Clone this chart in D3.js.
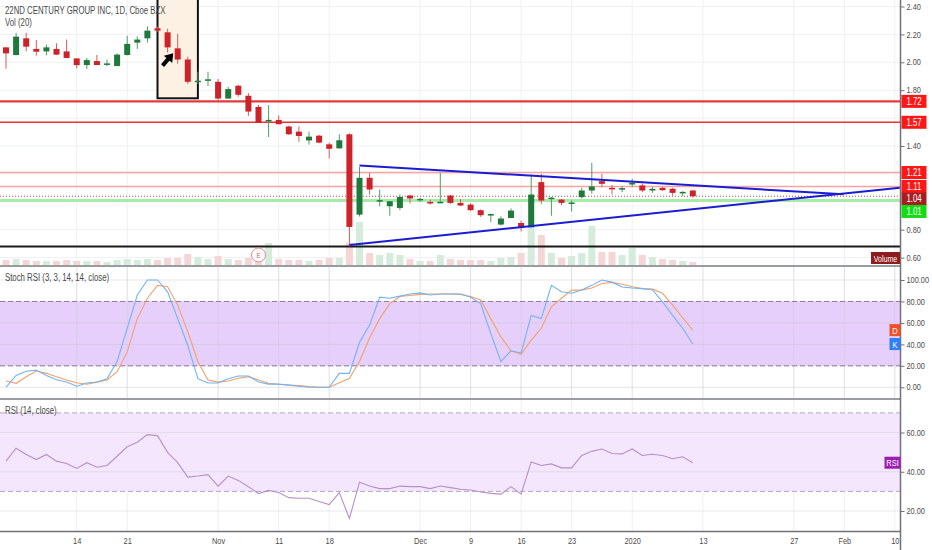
<!DOCTYPE html>
<html><head><meta charset="utf-8">
<script src="https://cdn.jsdelivr.net/npm/d3@7"></script>
<style>
html,body{margin:0;padding:0;background:#fff;}
svg{display:block;font-family:"Liberation Sans",Arial,sans-serif;}
</style></head><body><svg id="c" width="932" height="550"></svg>
<script>
// ---------- DATA ----------
const tradingDays = [
"2019-10-03","2019-10-04","2019-10-07","2019-10-08","2019-10-09","2019-10-10","2019-10-11","2019-10-14","2019-10-15","2019-10-16","2019-10-17","2019-10-18","2019-10-21","2019-10-22","2019-10-23","2019-10-24","2019-10-25","2019-10-28","2019-10-29","2019-10-30","2019-10-31",
"2019-11-01","2019-11-04","2019-11-05","2019-11-06","2019-11-07","2019-11-08","2019-11-11","2019-11-12","2019-11-13","2019-11-14","2019-11-15","2019-11-18","2019-11-19","2019-11-20","2019-11-21","2019-11-22","2019-11-25","2019-11-26","2019-11-27","2019-11-29",
"2019-12-02","2019-12-03","2019-12-04","2019-12-05","2019-12-06","2019-12-09","2019-12-10","2019-12-11","2019-12-12","2019-12-13","2019-12-16","2019-12-17","2019-12-18","2019-12-19","2019-12-20","2019-12-23","2019-12-24","2019-12-26","2019-12-27","2019-12-30","2019-12-31",
"2020-01-02","2020-01-03","2020-01-06","2020-01-07","2020-01-08","2020-01-09","2020-01-10","2020-01-13","2020-01-14","2020-01-15","2020-01-16","2020-01-17","2020-01-21","2020-01-22","2020-01-23","2020-01-24","2020-01-27","2020-01-28","2020-01-29","2020-01-30","2020-01-31",
"2020-02-03","2020-02-04","2020-02-05","2020-02-06","2020-02-07","2020-02-10"];

const tickDays   = ["2019-10-14","2019-10-21","2019-11-01","2019-11-11","2019-11-18","2019-12-02","2019-12-09","2019-12-16","2019-12-23","2020-01-02","2020-01-13","2020-01-27","2020-02-03","2020-02-10"];
const tickLabels = ["14","21","Nov","11","18","Dec","9","16","23","2020","13","27","Feb","10"];

const open  = [2.107,2.052,2.172,2.096,2.078,2.096,2.078,2.028,1.980,2.009,1.985,1.973,2.052,2.141,2.172,2.244,2.215,2.100,2.020,1.865,1.875,
               1.860,1.740,1.832,1.760,1.680,1.583,1.587,1.540,1.503,1.440,1.474,1.412,1.383,1.484,0.908,1.172,1.010,0.968,0.956,1.045,
               1.012,0.999,0.990,1.045,0.992,0.980,0.940,0.908,0.837,0.884,0.848,0.817,1.141,1.028,1.016,0.990,1.033,1.081,1.148,1.100,1.095,
               1.124,1.117,1.081,1.100,1.093,1.062,1.081];
const high  = [2.110,2.211,2.211,2.160,2.127,2.136,2.163,2.030,2.031,2.052,2.019,2.064,2.190,2.186,2.258,2.255,2.240,2.204,2.040,1.932,1.932,
               1.880,1.825,1.839,1.779,1.695,1.693,1.620,1.545,1.540,1.503,1.480,1.424,1.484,1.490,1.250,1.208,1.088,1.004,1.052,1.050,
               1.030,1.016,1.208,1.050,1.020,0.990,0.945,0.915,0.896,0.952,0.865,1.196,1.200,1.033,1.020,1.010,1.100,1.280,1.200,1.120,1.112,
               1.165,1.130,1.107,1.105,1.100,1.076,1.085];
const low   = [1.954,2.050,2.078,2.048,2.050,2.054,2.030,1.956,1.952,1.980,1.973,1.973,2.050,2.096,2.141,2.220,2.070,1.990,1.844,1.844,1.830,
               1.724,1.740,1.753,1.616,1.567,1.465,1.556,1.480,1.430,1.410,1.420,1.310,1.383,0.680,0.895,1.052,0.968,0.900,0.940,0.988,
               1.000,0.980,0.990,0.985,0.970,0.935,0.892,0.855,0.830,0.884,0.788,0.817,0.985,0.900,0.975,0.930,1.024,1.057,1.105,1.052,1.070,
               1.105,1.070,1.064,1.080,1.045,1.040,1.030];
const close = [2.064,2.184,2.112,2.076,2.107,2.055,2.031,1.980,2.016,1.980,1.992,2.055,2.132,2.163,2.227,2.227,2.107,2.020,1.860,1.868,1.878,
               1.740,1.808,1.767,1.647,1.567,1.587,1.556,1.484,1.472,1.467,1.424,1.380,1.441,0.820,1.172,1.088,1.012,1.004,1.035,1.024,
               1.021,0.988,1.000,0.992,0.973,0.940,0.904,0.912,0.880,0.937,0.812,1.052,1.009,1.030,0.992,0.995,1.081,1.110,1.129,1.090,1.098,
               1.136,1.081,1.093,1.083,1.064,1.071,1.040];
// volume, millions of shares
const volume = [0.5,0.6,0.5,0.4,0.4,0.4,0.5,0.4,0.4,0.4,0.3,0.5,0.6,0.5,0.6,0.5,0.7,0.7,1.1,0.8,0.6,
                0.9,0.6,0.5,0.7,0.8,2.2,0.6,0.5,0.5,0.4,0.5,0.7,0.7,2.2,4.3,1.2,1.0,1.2,1.0,0.6,
                0.4,0.4,1.0,0.6,0.5,0.5,0.5,0.4,0.7,0.8,1.2,3.8,3.0,1.2,0.7,0.9,1.2,3.9,1.3,1.3,1.0,
                1.7,1.0,0.8,0.6,0.5,0.4,0.3];

const stochK = [0,11,15,16,11,7,5,1,4,5,8,24,55,86,100,100,89,64,39,8,4,
                4,8,10.5,10.5,5,3,3,2,1,0,0,0,13,13,42,58,84,83,85,87,
                88,86,87,87,87,84,78,50,24,34,32,67,64,95,89,87.6,90.6,95,100,98,93.5,
                92.6,92,91,79.7,67,55,40.3];
const stochD = [5.8,3.7,9.9,15.2,13,9.9,6.8,4.3,2.8,4.8,6.8,14.5,33,64,83,95,93.7,76.6,51.8,23.9,6.8,
                4.8,5.8,8.4,9.9,6.8,3.7,2.8,2.2,1.6,0.6,0,0,4.3,8.4,24,46,64,78,84.6,85.6,
                86.6,87,87,87,86.6,84.6,81.3,64,47,34,30.7,44,55,75,83,90.6,90.6,92.6,96.8,97.8,96,
                93.7,92,91.5,87.6,76.6,64.8,53.3];
const rsi = [45.4,52,48.8,46.2,48.8,45.4,44.2,41.7,44.6,42.3,43.2,47.9,52.7,55,58.9,58.4,49.9,44.6,37.3,37.8,38.5,
             32.7,37.8,35.6,32.4,28.9,30.5,29.4,26.8,26.5,26.5,24.8,23.3,29.4,16.2,34.7,32.7,31.4,31.4,32.7,32.4,
             32.4,31.4,32.7,31.9,31.1,30.7,29.7,29,28.6,32.4,28.6,45,43.2,44,42,42,48.3,50.4,51.6,49.3,49.1,
             51.6,48.3,48.9,48.3,46.6,47.6,44.6];

const priceTicks = [0.60,0.80,1.00,1.20,1.40,1.60,1.80,2.00,2.20,2.40];
const stochTicks = [0,20,40,60,80,100];
const rsiTicks   = [20,40,60];

const resistanceLevels = [1.72,1.57,1.21,1.11];
const lastPrice = 1.04;
const supportLevel = 1.01;
const baseLevel = 0.68;
const upperTrend = [[35,1.26],[82.9,1.054]];   // [day index, price]
const lowerTrend = [[34,0.69],[88.5,1.101]];
const zoneBox = [[15,2.60],[19,1.742]];
const arrowPts = [[15.5,1.976],[16.56,2.065]];
const earningsDay = "2019-11-07";

// ---------- LAYOUT ----------
const svg = d3.select("#c");
const W = 932, H = 550, plotR = 900.5;
const pane = {price:[0,265], stoch:[267,398], rsi:[400,531]};
const axisY = 531.5;
const txtCol = "#4a4a4a";

const x = d3.scaleLinear().domain([0, tradingDays.length-1]).range([6, 894.8]);
const xd = d => x(tradingDays.indexOf(d));
const yP = d3.scaleLinear().domain([0.60,2.40]).range([257.6,6.5]);
const yV = d3.scaleLinear().domain([0,4.3]).range([265,222]);
const yS = d3.scaleLinear().domain([0,100]).range([387.3,280]);
const yR = d3.scaleLinear().domain([20,60]).range([511,432.5]);

const defs = svg.append("defs");
function clip(id, y0, y1){ defs.append("clipPath").attr("id",id).append("rect").attr("x",0).attr("y",y0).attr("width",plotR).attr("height",y1-y0); }
clip("cp", pane.price[0], pane.price[1]);
clip("cs", pane.stoch[0], pane.stoch[1]);
clip("cr", pane.rsi[0], pane.rsi[1]);

const gridCol = "#eef0f4";
const tickIdx = tickDays.map(d => tradingDays.indexOf(d));

// vertical grid lines
svg.append("g").selectAll("line").data(tickIdx).join("line")
  .attr("x1",d=>x(d)).attr("x2",d=>x(d)).attr("y1",0).attr("y2",axisY)
  .attr("stroke",gridCol).attr("stroke-width",1);

// ---------- PRICE PANE ----------
const gp = svg.append("g").attr("clip-path","url(#cp)");
gp.selectAll("line.hg").data(priceTicks).join("line").attr("class","hg")
  .attr("x1",0).attr("x2",plotR).attr("y1",d=>yP(d)).attr("y2",d=>yP(d))
  .attr("stroke",gridCol);

// zone box
gp.append("rect")
  .attr("x",x(zoneBox[0][0])).attr("y",yP(zoneBox[0][1]))
  .attr("width",x(zoneBox[1][0])-x(zoneBox[0][0])).attr("height",yP(zoneBox[1][1])-yP(zoneBox[0][1]))
  .attr("fill","#fdf1e4").attr("stroke","#111").attr("stroke-width",2);

// volume
const idx = d3.range(open.length);
gp.append("g").selectAll("rect").data(idx).join("rect")
  .attr("x",i=>x(i)-3.5).attr("width",7)
  .attr("y",i=>yV(volume[i])).attr("height",i=>yV(0)-yV(volume[i]))
  .attr("fill",i=>close[i]>=open[i]?"#d5ecdc":"#f5d6d6");

// horizontal levels
const lvlStyle = {1.72:["#e23b3b",2.2],1.57:["#e43434",1.6],1.21:["#f6a3a3",1.5],1.11:["#f6a3a3",1.5]};
gp.selectAll("line.lv").data(resistanceLevels).join("line").attr("class","lv")
  .attr("x1",0).attr("x2",plotR).attr("y1",d=>yP(d)).attr("y2",d=>yP(d))
  .attr("stroke",d=>lvlStyle[d][0]).attr("stroke-width",d=>lvlStyle[d][1]);
gp.append("line").attr("x1",0).attr("x2",plotR).attr("y1",yP(supportLevel)).attr("y2",yP(supportLevel))
  .attr("stroke","#a8eaa8").attr("stroke-width",3);
gp.append("line").attr("x1",0).attr("x2",plotR).attr("y1",yP(lastPrice)).attr("y2",yP(lastPrice))
  .attr("stroke","#c84040").attr("stroke-width",1).attr("stroke-dasharray","1,2");
gp.append("line").attr("x1",0).attr("x2",plotR).attr("y1",yP(baseLevel)).attr("y2",yP(baseLevel))
  .attr("stroke","#1a1a1a").attr("stroke-width",2);

// candles
const up = i => close[i] >= open[i];
const gC = gp.append("g");
gC.selectAll("line").data(idx).join("line")
  .attr("x1",i=>x(i)).attr("x2",i=>x(i)).attr("y1",i=>yP(high[i])).attr("y2",i=>yP(low[i]))
  .attr("stroke",i=>up(i)?"#4f9d64":"#dd5a5a").attr("stroke-width",1);
gC.selectAll("rect").data(idx).join("rect")
  .attr("x",i=>x(i)-3).attr("width",6)
  .attr("y",i=>yP(Math.max(open[i],close[i])))
  .attr("height",i=>Math.max(1.5, Math.abs(yP(open[i])-yP(close[i]))))
  .attr("fill",i=>up(i)?"#1e7a3a":"#cc2229");

// trend lines
[upperTrend, lowerTrend].forEach(t=>{
  gp.append("line").attr("x1",x(t[0][0])).attr("y1",yP(t[0][1])).attr("x2",x(t[1][0])).attr("y2",yP(t[1][1]))
    .attr("stroke","#1c1cd0").attr("stroke-width",2);
});

// arrow
{
  const x0=x(arrowPts[0][0]), y0=yP(arrowPts[0][1]), x1=x(arrowPts[1][0]), y1=yP(arrowPts[1][1]);
  const ang=Math.atan2(y1-y0,x1-x0), hl=8, hw=5.5;
  const bx=x1-hl*Math.cos(ang), by=y1-hl*Math.sin(ang);
  gp.append("line").attr("x1",x0).attr("y1",y0).attr("x2",bx+1.5*Math.cos(ang)).attr("y2",by+1.5*Math.sin(ang))
    .attr("stroke","#000").attr("stroke-width",4);
  const px=-Math.sin(ang), py=Math.cos(ang);
  gp.append("path").attr("d",`M${x1},${y1}L${bx+hw*px},${by+hw*py}L${bx-hw*px},${by-hw*py}Z`).attr("fill","#000");
}

// earnings marker
{
  const ex = xd(earningsDay), ey = 255;
  svg.append("circle").attr("cx",ex).attr("cy",ey).attr("r",7).attr("fill","#fff").attr("stroke","#e88a8a").attr("stroke-width",1);
  svg.append("text").attr("class","fit").attr("x",ex).attr("y",ey+3).attr("text-anchor","middle").attr("font-size",8).attr("fill","#e05d5d").text("E");
}

// headers
svg.append("text").attr("class","fit").attr("x",5).attr("y",14).attr("font-size",10).attr("fill",txtCol).text("22ND CENTURY GROUP INC, 1D, Cboe BZX");
svg.append("text").attr("class","fit").attr("x",5).attr("y",25.5).attr("font-size",10).attr("fill",txtCol).text("Vol (20)");

// ---------- STOCH RSI PANE ----------
const gs = svg.append("g").attr("clip-path","url(#cs)");
gs.append("rect").attr("x",0).attr("width",plotR).attr("y",yS(80)).attr("height",yS(20)-yS(80)).attr("fill","#e6d0fb");
gs.selectAll("line.hg").data(stochTicks).join("line").attr("class","hg")
  .attr("x1",0).attr("x2",plotR).attr("y1",d=>yS(d)).attr("y2",d=>yS(d)).attr("stroke","#c9c3d3").attr("stroke-opacity",0.45);
gs.selectAll("line.vg").data(tickIdx).join("line").attr("class","vg")
  .attr("x1",d=>x(d)).attr("x2",d=>x(d)).attr("y1",pane.stoch[0]).attr("y2",pane.stoch[1]).attr("stroke","#c9c3d3").attr("stroke-opacity",0.35);
[80,20].forEach(v=>gs.append("line").attr("x1",0).attr("x2",plotR).attr("y1",yS(v)).attr("y2",yS(v))
  .attr("stroke","#8f7a9f").attr("stroke-dasharray","5,3"));
const lineS = d3.line().x((d,i)=>x(i)).y(d=>yS(d));
gs.append("path").attr("d",lineS(stochD)).attr("fill","none").attr("stroke","#f3a06c").attr("stroke-width",1.1);
gs.append("path").attr("d",lineS(stochK)).attr("fill","none").attr("stroke","#72b3f0").attr("stroke-width",1.1);
svg.append("text").attr("class","fit").attr("x",5).attr("y",281).attr("font-size",10).attr("fill",txtCol).text("Stoch RSI (3, 3, 14, 14, close)");

// ---------- RSI PANE ----------
const gr = svg.append("g").attr("clip-path","url(#cr)");
gr.append("rect").attr("x",0).attr("width",plotR).attr("y",yR(70)).attr("height",yR(30)-yR(70)).attr("fill","#f3e6fd");
gr.selectAll("line.hg").data(rsiTicks).join("line").attr("class","hg")
  .attr("x1",0).attr("x2",plotR).attr("y1",d=>yR(d)).attr("y2",d=>yR(d)).attr("stroke","#d6d0de").attr("stroke-opacity",0.5);
[70,30].forEach(v=>gr.append("line").attr("x1",0).attr("x2",plotR).attr("y1",yR(v)).attr("y2",yR(v))
  .attr("stroke","#b7a5c4").attr("stroke-dasharray","5,3"));
const lineR = d3.line().x((d,i)=>x(i)).y(d=>yR(d));
gr.append("path").attr("d",lineR(rsi)).attr("fill","none").attr("stroke","#b690c9").attr("stroke-width",1.1);
svg.append("text").attr("class","fit").attr("x",5).attr("y",414).attr("font-size",10).attr("fill",txtCol).text("RSI (14, close)");

// ---------- SEPARATORS & AXES ----------
[266, 399].forEach(yy=>svg.append("line").attr("x1",0).attr("x2",plotR).attr("y1",yy).attr("y2",yy).attr("stroke","#9a9ca3").attr("stroke-width",2));
svg.append("line").attr("x1",0).attr("x2",plotR).attr("y1",axisY).attr("y2",axisY).attr("stroke","#6f727b").attr("stroke-width",1.5);
svg.append("line").attr("x1",plotR).attr("x2",plotR).attr("y1",0).attr("y2",H).attr("stroke","#6f727b").attr("stroke-width",1.5);

// price labels: resolve positions first (to hide axis tick texts under them)
const priceLabels = [
  {v:1.72, fill:"#ff1717"},
  {v:1.57, fill:"#ff1717"},
  {v:1.21, fill:"#ff1717"},
  {v:1.11, fill:"#ff1717"},
  {v:lastPrice, fill:"#a61e22"},
  {v:supportLevel, fill:"#12dd12"}];
let prevY = -100;
const placed = priceLabels.map(d=>({...d, y:yP(d.v)})).sort((a,b)=>a.y-b.y).map(d=>{
  const yy = Math.max(d.y, prevY + 12.5); prevY = yy; return {...d, y:yy};
});

function styleAxis(g){
  g.select(".domain").remove();
  g.selectAll("text").attr("class","fitAx").attr("font-size",8.2).attr("fill","#4d4d4d");
  g.selectAll("line").attr("stroke","#6f727b");
}
svg.append("g").attr("transform",`translate(${plotR},0)`)
  .call(d3.axisRight(yP).tickValues(priceTicks.filter(t=>!placed.some(p=>Math.abs(p.y-yP(t))<10))).tickFormat(d3.format(".2f")).tickSize(4).tickPadding(2)).call(styleAxis);
svg.append("g").attr("transform",`translate(${plotR},0)`)
  .call(d3.axisRight(yS).tickValues(stochTicks).tickFormat(d3.format(".2f")).tickSize(4).tickPadding(2)).call(styleAxis);
svg.append("g").attr("transform",`translate(${plotR},0)`)
  .call(d3.axisRight(yR).tickValues(rsiTicks).tickFormat(d3.format(".2f")).tickSize(4).tickPadding(2)).call(styleAxis);
svg.append("g").attr("transform",`translate(0,${axisY})`)
  .call(d3.axisBottom(x).tickValues(tickIdx).tickFormat((d,i)=>tickLabels[i]).tickSize(0).tickPadding(6))
  .call(g=>{g.select(".domain").remove(); g.selectAll("text").attr("class","fit").attr("font-size",9.5).attr("fill","#4d4d4d");});

placed.forEach(d=>{
  svg.append("rect").attr("x",plotR+1).attr("y",d.y-6.5).attr("width",25).attr("height",13).attr("fill",d.fill);
  svg.append("text").attr("class","fit").attr("x",plotR+13.5).attr("y",d.y+3.5).attr("text-anchor","middle").attr("font-size",10).attr("fill","#fff").text(d.v.toFixed(2));
});

// Volume label
svg.append("rect").attr("x",871).attr("y",252).attr("width",29).attr("height",12).attr("fill","#8e1c1c");
svg.append("text").attr("class","fit").attr("x",885.5).attr("y",261.5).attr("text-anchor","middle").attr("font-size",9).attr("fill","#fff").text("Volume");

// series last-value tags
function tag(label, yy, fill, w){
  svg.append("rect").attr("x",plotR-w).attr("y",yy-6).attr("width",w).attr("height",12).attr("fill",fill);
  svg.append("text").attr("class","fit").attr("x",plotR-w/2).attr("y",yy+3.5).attr("text-anchor","middle").attr("font-size",9.5).attr("fill","#fff").text(label);
}
tag("D", yS(stochD[stochD.length-1]), "#f0502a", 11);
tag("K", yS(stochK[stochK.length-1]), "#2f7ff5", 11);
tag("RSI", yR(rsi[rsi.length-1]), "#9b1fb0", 16);

// condense texts (the reference uses a narrow face)
function condense(sel, k){
  sel.each(function(){
    const len = this.getComputedTextLength();
    if (len > 0) { this.setAttribute("textLength", (len*k).toFixed(1)); this.setAttribute("lengthAdjust","spacingAndGlyphs"); }
  });
}
condense(svg.selectAll("text.fit"), 0.78);
condense(svg.selectAll("text.fitAx"), 0.9);
</script></body></html>
